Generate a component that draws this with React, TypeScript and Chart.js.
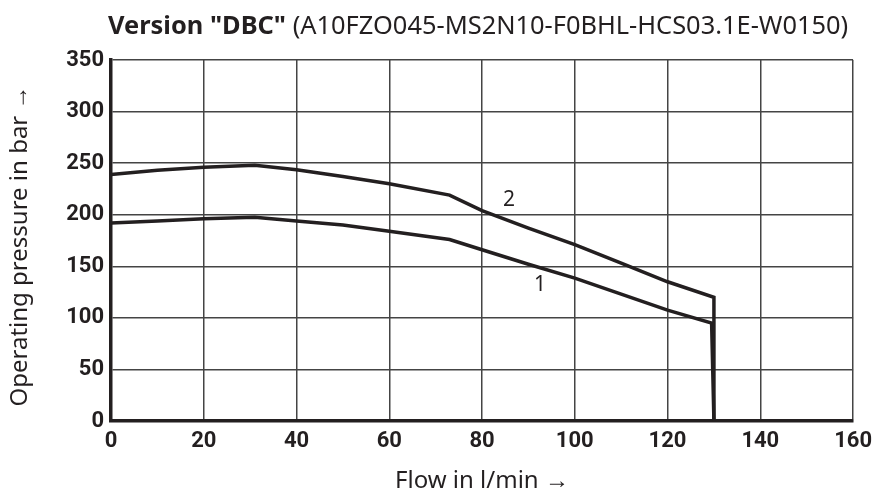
import React, { useEffect, useRef } from "react";
import { Chart, registerables } from "chart.js";

Chart.register(...registerables);

const curve2X = [0, 10, 20, 31, 40, 50, 60, 73, 80, 90, 100, 110, 120, 130, 130];
const curve2Y = [239, 243, 246, 248, 243.5, 237, 230, 219, 204, 187, 171, 153, 135, 120, 0];
const curve1X = [0, 10, 20, 31, 40, 50, 60, 73, 80, 90, 100, 110, 120, 129.5, 130];
const curve1Y = [192, 194, 196, 197.5, 194, 190, 184, 176, 166, 152, 138.5, 123, 107.5, 95, 0];
const curveLabels = [
  { text: "2", x: 85.8, y: 214 },
  { text: "1", x: 92.5, y: 132 },
];
const titleBold = 'Version "DBC"';
const titleRest = " (A10FZO045-MS2N10-F0BHL-HCS03.1E-W0150)";
const xTitle = "Flow in l/min →";
const yTitle = "Operating pressure in bar →";

const FONT = "'Noto Sans', 'Open Sans', sans-serif";
const TICK_FONT = "Roboto, 'Noto Sans', sans-serif";

export default function App() {
  const ref = useRef<HTMLCanvasElement | null>(null);
  useEffect(() => {
    if (!ref.current) return;
    const textPlugin = {
      id: "texts",
      afterDraw(chart: any) {
        const ctx = chart.ctx;
        const xs = chart.scales.x;
        const ys = chart.scales.y;
        ctx.save();
        ctx.fillStyle = "#231f20";
        ctx.textBaseline = "middle";
        // curve labels
        ctx.font = `21px ${FONT}`;
        ctx.textAlign = "center";
        curveLabels.forEach((l) => {
          ctx.fillText(l.text, xs.getPixelForValue(l.x), ys.getPixelForValue(l.y));
        });
        // title fitted to width
        ctx.textAlign = "left";
        const target = 740;
        let size = 22;
        let wb = 0;
        let wr = 0;
        for (let i = 0; i < 3; i++) {
          ctx.font = `bold ${size}px ${FONT}`;
          wb = ctx.measureText(titleBold).width;
          ctx.font = `${size}px ${FONT}`;
          wr = ctx.measureText(titleRest).width;
          size = size * target / (wb + wr);
        }
        ctx.font = `bold ${size}px ${FONT}`;
        wb = ctx.measureText(titleBold).width;
        const startX = 108;
        ctx.fillText(titleBold, startX, 27);
        ctx.font = `${size}px ${FONT}`;
        ctx.fillText(titleRest, startX + wb, 27);
        // x title
        ctx.textAlign = "center";
        ctx.font = `24px ${FONT}`;
        ctx.fillText(xTitle, 482, 481);
        // y title
        ctx.translate(20, 246);
        ctx.rotate(-Math.PI / 2);
        ctx.fillText(yTitle, 0, 0);
        ctx.restore();
      },
    };
    const chart = new Chart(ref.current, {
      type: "line",
      data: {
        datasets: [
          {
            label: "2",
            data: curve2X.map((x, i) => ({ x, y: curve2Y[i] })),
            borderColor: "#231f20",
            borderWidth: 3.5,
            pointRadius: 0,
            tension: 0,
            fill: false,
          },
          {
            label: "1",
            data: curve1X.map((x, i) => ({ x, y: curve1Y[i] })),
            borderColor: "#231f20",
            borderWidth: 3.5,
            pointRadius: 0,
            tension: 0,
            fill: false,
          },
        ],
      },
      options: {
        animation: false,
        responsive: false,
        devicePixelRatio: 1,
        layout: { padding: { left: 0, right: 25, top: 60, bottom: 0 } },
        plugins: { legend: { display: false }, tooltip: { enabled: false }, title: { display: false } },
        scales: {
          x: {
            type: "linear",
            min: 0,
            max: 160,
            ticks: {
              stepSize: 20,
              color: "#231f20",
              font: { family: TICK_FONT, size: 22, weight: "bold" },
              padding: 7,
            },
            grid: { color: "#444", lineWidth: 1.5, drawTicks: false },
            border: { color: "#231f20", width: 3.5 },
            afterFit(scale: any) {
              scale.height = 74;
            },
          },
          y: {
            min: 0,
            max: 350,
            ticks: {
              stepSize: 50,
              color: "#231f20",
              font: { family: TICK_FONT, size: 22, weight: "bold" },
              padding: 7,
            },
            grid: { color: "#444", lineWidth: 1.5, drawTicks: false },
            border: { color: "#231f20", width: 3.5 },
            afterFit(scale: any) {
              scale.width = 111;
            },
          },
        },
      },
      plugins: [textPlugin],
    });
    return () => chart.destroy();
  }, []);
  return (
    <div style={{ position: "fixed", left: 0, top: 0, width: 879, height: 495, background: "#fff" }}>
      <canvas ref={ref} width={879} height={495} style={{ width: 879, height: 495 }} />
    </div>
  );
}
